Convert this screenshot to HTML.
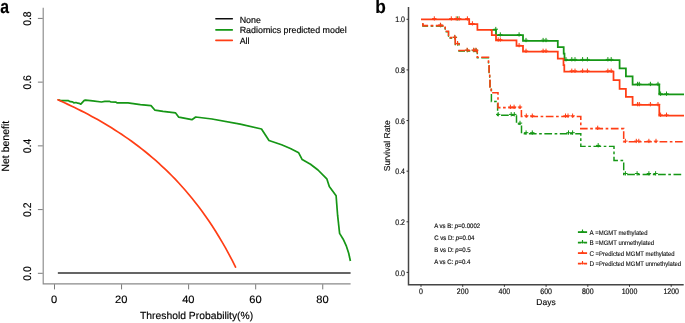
<!DOCTYPE html>
<html><head><meta charset="utf-8"><title>Decision curve and survival</title>
<style>html,body{margin:0;padding:0;background:#fff}body{width:685px;height:323px;overflow:hidden}svg{display:block}text{font-family:"Liberation Sans",Arial,sans-serif;fill:#000;text-rendering:geometricPrecision;stroke:#000;stroke-width:0.16px;stroke-linejoin:round}.tb text,text.tb{stroke-width:0.15px;stroke:#222}text.tl{stroke-width:0.08px;stroke:#222}</style></head><body>
<svg width="685" height="323" viewBox="0 0 685 323">
<rect width="685" height="323" fill="#fff"/>
<defs><filter id="soft" x="0" y="0" width="685" height="323" filterUnits="userSpaceOnUse"><feGaussianBlur stdDeviation="0.4"/></filter></defs>
<g filter="url(#soft)">
<path d="M43.2 7.8V283.8H350.6" stroke="#8a8a8a" stroke-width="1.15" fill="none"/>
<g stroke="#6a6a6a" stroke-width="0.9" fill="none">
<path d="M37.900000000000006 273.30H42.7"/>
<path d="M37.900000000000006 209.58H42.7"/>
<path d="M37.900000000000006 145.86H42.7"/>
<path d="M37.900000000000006 82.14H42.7"/>
<path d="M37.900000000000006 18.42H42.7"/>
<path d="M54.50 284.3V289.40000000000003"/>
<path d="M121.56 284.3V289.40000000000003"/>
<path d="M188.62 284.3V289.40000000000003"/>
<path d="M255.68 284.3V289.40000000000003"/>
<path d="M322.74 284.3V289.40000000000003"/>
</g>
<g font-size="10.7px" text-anchor="middle">
<text transform="translate(54.20 303.0) scale(1.04 1)">0</text>
<text transform="translate(121.26 303.0) scale(1.04 1)">20</text>
<text transform="translate(188.32 303.0) scale(1.04 1)">40</text>
<text transform="translate(255.38 303.0) scale(1.04 1)">60</text>
<text transform="translate(322.44 303.0) scale(1.04 1)">80</text>
<text transform="translate(30.8 273.50) scale(1.04 0.97) rotate(-90)">0.0</text>
<text transform="translate(30.8 209.78) scale(1.04 0.97) rotate(-90)">0.2</text>
<text transform="translate(30.8 146.06) scale(1.04 0.97) rotate(-90)">0.4</text>
<text transform="translate(30.8 82.34) scale(1.04 0.97) rotate(-90)">0.6</text>
<text transform="translate(30.8 18.62) scale(1.04 0.97) rotate(-90)">0.8</text>
</g>
<text x="196.6" y="319.3" font-size="10.35px" text-anchor="middle">Threshold Probability(%)</text>
<text transform="translate(9.1 146.2) rotate(-90)" font-size="10.5px" text-anchor="middle">Net benefit</text>
<path d="M57.85 273.1H350.6" stroke="#333" stroke-width="1.5" fill="none"/>
<path d="M58.3 99.8 L60.7 100.6 L68.1 100.6 L70.3 101.7 L72.5 101.9 L73.8 102.8 L76 102.5 L77.8 103.2 L79.1 103.3 L80.8 104.2 L84.3 100.4 L85.5 100.2 L92.7 100.9 L101.4 102 L104.9 101.3 L109.3 101.3 L111 102 L116 102.1 L117 102.9 L127.9 102.9 L140.4 104.6 L151 105.6 L155 110.2 L163 111.4 L175.6 112.9 L178.8 117.2 L191.9 119.7 L195.7 117 L212 119 L240.2 124.2 L261.5 129 L269 140.5 L281.6 144.8 L290.4 148.5 L298.7 152.8 L302.2 159.6 L310.5 164.3 L318 170 L326.8 178.8 L329.3 186.4 L336.1 195.7 L337.6 215.2 L339.6 233.4 L343.2 239.2 L346.4 246.2 L348.7 253.3 L350.4 261" stroke="#149614" stroke-width="1.7" fill="none" stroke-linejoin="round"/>
<path d="M57.85 99.84 L61.21 101.32 L64.56 102.83 L67.91 104.38 L71.27 105.95 L74.62 107.56 L77.97 109.20 L81.32 110.88 L84.68 112.60 L88.03 114.35 L91.38 116.15 L94.74 117.98 L98.09 119.86 L101.44 121.78 L104.80 123.75 L108.15 125.76 L111.50 127.82 L114.85 129.93 L118.21 132.09 L121.56 134.31 L124.91 136.58 L128.27 138.92 L131.62 141.31 L134.97 143.76 L138.32 146.28 L141.68 148.87 L145.03 151.53 L148.38 154.27 L151.74 157.08 L155.09 159.97 L158.44 162.94 L161.80 166.01 L165.15 169.16 L168.50 172.41 L171.86 175.76 L175.21 179.21 L178.56 182.78 L181.91 186.46 L185.27 190.26 L188.62 194.18 L191.97 198.24 L195.33 202.44 L198.68 206.79 L202.03 211.29 L205.39 215.95 L208.74 220.79 L212.09 225.81 L215.44 231.02 L218.80 236.44 L222.15 242.08 L225.50 247.94 L228.86 254.05 L232.21 260.42 L235.56 267.07" stroke="#FF3D14" stroke-width="1.7" fill="none" stroke-linejoin="round" stroke-linecap="round"/>
<path d="M215.9 18.7H232.3" stroke="#111" stroke-width="1.6" stroke-linecap="round"/>
<text x="239.7" y="22.9" font-size="8.9px">None</text>
<path d="M215.9 29.9H232.3" stroke="#149614" stroke-width="1.6" stroke-linecap="round"/>
<text x="239.7" y="33.1" font-size="8.9px">Radiomics predicted model</text>
<path d="M215.9 40.4H232.3" stroke="#FF3D14" stroke-width="1.6" stroke-linecap="round"/>
<text x="239.7" y="43.8" font-size="8.9px">All</text>
<text transform="translate(0.3 13.3) scale(0.84 1)" font-size="18.8px" font-weight="bold">a</text>
<path d="M408.5 7V284.8H683.7" stroke="#444" stroke-width="1.5" fill="none"/>
<g stroke="#333" stroke-width="1" fill="none">
<path d="M406.5 272.40H408.5"/>
<path d="M406.5 221.78H408.5"/>
<path d="M406.5 171.16H408.5"/>
<path d="M406.5 120.54H408.5"/>
<path d="M406.5 69.92H408.5"/>
<path d="M406.5 19.30H408.5"/>
<path d="M421.00 284.8V286.8"/>
<path d="M462.70 284.8V286.8"/>
<path d="M504.40 284.8V286.8"/>
<path d="M546.10 284.8V286.8"/>
<path d="M587.80 284.8V286.8"/>
<path d="M629.50 284.8V286.8"/>
<path d="M671.20 284.8V286.8"/>
</g>
<g class="tb" font-size="7px" fill="#222">
<text transform="translate(421.00 293.5) scale(1 1.14)" text-anchor="middle">0</text>
<text transform="translate(462.70 293.5) scale(1 1.14)" text-anchor="middle">200</text>
<text transform="translate(504.40 293.5) scale(1 1.14)" text-anchor="middle">400</text>
<text transform="translate(546.10 293.5) scale(1 1.14)" text-anchor="middle">600</text>
<text transform="translate(587.80 293.5) scale(1 1.14)" text-anchor="middle">800</text>
<text transform="translate(629.50 293.5) scale(1 1.14)" text-anchor="middle">1000</text>
<text transform="translate(671.20 293.5) scale(1 1.14)" text-anchor="middle">1200</text>
<text transform="translate(405.0 275.50) scale(1 1.14)" text-anchor="end">0.0</text>
<text transform="translate(405.0 224.88) scale(1 1.14)" text-anchor="end">0.2</text>
<text transform="translate(405.0 174.26) scale(1 1.14)" text-anchor="end">0.4</text>
<text transform="translate(405.0 123.64) scale(1 1.14)" text-anchor="end">0.6</text>
<text transform="translate(405.0 73.02) scale(1 1.14)" text-anchor="end">0.8</text>
<text transform="translate(405.0 22.40) scale(1 1.14)" text-anchor="end">1.0</text>
</g>
<text class="tb" x="546" y="305.4" font-size="8.5px" text-anchor="middle">Days</text>
<text class="tb" transform="translate(389.6 145.8) rotate(-90)" font-size="8.6px" text-anchor="middle">Survival Rate</text>
<text transform="translate(375.3 13.4) scale(0.91 1)" font-size="19px" font-weight="bold">b</text>
<path d="M422.9 23.70H422.9V26.20H445.2V31.90H448.5V38.20H455.3V44.60H459.1V45.40" stroke="#149614" stroke-width="1.3" fill="none" stroke-dasharray="7.7 2.55 2.65 2.55"/>
<path d="M458.3 51.00H477.3V57.90H488.5V63.60H489.1V73.60H489.7V78.60H490V87.60" stroke="#149614" stroke-width="1.3" fill="none" stroke-dasharray="7.7 2.55 2.65 2.55" stroke-dashoffset="1"/>
<path d="M490 87.35H491.4V101.45H497.6V115.15H516.5V124.05H521.5V133.65H580.8V146.35H614V160.45H623.7V174.45H682.4" stroke="#149614" stroke-width="1.45" fill="none" stroke-dasharray="7.7 2.55 2.65 2.55" stroke-dashoffset="7.50"/>
<path d="M490 29.80H496V35.20H523V40.80H557.8V47.10H563.7V53.50H564.5V60.00H619.6V68.40H625.9V76.30H632.6V84.70H659.3V94.40H684" stroke="#149614" stroke-width="1.75" fill="none"/>
<path d="M455.5 18.60H459.9M457.7 16.30V20.60M493.6 29.20H498.0M495.8 26.90V31.20M498.1 34.60H502.5M500.3 32.30V36.60M516.9 34.60H521.3M519.1 32.30V36.60M523.8 40.20H528.2M526.0 37.90V42.20M540.9 40.20H545.3M543.1 37.90V42.20M543.8 40.20H548.2M546.0 37.90V42.20M563.8 59.40H568.2M566.0 57.10V61.40M569.6 59.40H574.0M571.8 57.10V61.40M572.8 59.40H577.2M575.0 57.10V61.40M580.4 59.40H584.8M582.6 57.10V61.40M585.2 59.40H589.6M587.4 57.10V61.40M605.7 59.40H610.1M607.9 57.10V61.40M609.0 59.40H613.4M611.2 57.10V61.40M635.4 84.10H639.8M637.6 81.80V86.10M637.1 84.10H641.5M639.3 81.80V86.10M648.2 84.10H652.6M650.4 81.80V86.10M655.8 84.10H660.2M658.0 81.80V86.10M658.4 93.80H662.8M660.6 91.50V95.80M664.3 93.80H668.7M666.5 91.50V95.80" stroke="#149614" stroke-width="1.0" fill="none"/>
<path d="M496.0 114.40H500.4M498.2 112.10V116.40M509.0 114.40H513.4M511.2 112.10V116.40M512.1 114.40H516.5M514.3 112.10V116.40M517.8 123.10H522.2M520 120.80V125.10M523.9 132.70H528.3M526.1 130.40V134.70M530.1 132.70H534.5M532.3 130.40V134.70M566.3 132.70H570.7M568.5 130.40V134.70M570.4 132.70H574.8M572.6 130.40V134.70M596.0 145.40H600.4M598.2 143.10V147.40M623.2 173.50H627.6M625.4 171.20V175.50M634.9 173.50H639.3M637.1 171.20V175.50M646.7 173.50H651.1M648.9 171.20V175.50M653.4 173.50H657.8M655.6 171.20V175.50M438.4 25.30H442.8M440.6 23.00V27.30M452.7 37.40H457.1M454.9 35.10V39.40M455.5 43.70H459.9M457.7 41.40V45.70M465.1 50.30H469.5M467.3 48.00V52.30M471.7 50.30H476.1M473.9 48.00V52.30M473.9 50.30H478.3M476.1 48.00V52.30" stroke="#149614" stroke-width="1.0" fill="none"/>
<path d="M422.9 23.10H422.9V25.60H445.2V31.30H448.5V37.60H455.3V44.00H459.1V44.80" stroke="#FF3D14" stroke-width="1.55" fill="none" stroke-dasharray="7.7 2.55 2.65 2.55"/>
<path d="M458.3 50.40H477.3V57.30H488.5V63.00H489.1V73.00H489.7V78.00H490V87.00H491.2V92.80H498V107.60H521.4V116.40H580.8V128.60H623.7V141.70H684" stroke="#FF3D14" stroke-width="1.55" fill="none" stroke-dasharray="7.7 2.55 2.65 2.55" stroke-dashoffset="1"/>
<path d="M421 19.45H469.2V24.20H477.4V29.80H491.8V35.10H496V40.30H516.5V45.90H523V51.60H557.8V58.70H563.5V65.20H564.3V71.50H613.5V80.20H619.6V88.80H625.9V96.80H632.6V104.90H659.3V115.50H684" stroke="#FF3D14" stroke-width="1.75" fill="none"/>
<path d="M432.1 18.60H436.5M434.3 16.30V20.60M449.1 18.60H453.5M451.3 16.30V20.60M454.0 18.60H458.4M456.2 16.30V20.60M457.0 18.60H461.4M459.2 16.30V20.60M465.2 18.60H469.6M467.4 16.30V20.60M470.2 23.50H474.6M472.4 21.20V25.50M496.0 39.70H500.4M498.2 37.40V41.70M498.1 39.70H502.5M500.3 37.40V41.70M516.9 45.30H521.3M519.1 43.00V47.30M523.8 51.00H528.2M526.0 48.70V53.00M540.9 51.00H545.3M543.1 48.70V53.00M543.8 51.00H548.2M546.0 48.70V53.00M569.6 70.90H574.0M571.8 68.60V72.90M572.8 70.90H577.2M575.0 68.60V72.90M580.4 70.90H584.8M582.6 68.60V72.90M585.2 70.90H589.6M587.4 68.60V72.90M605.7 70.90H610.1M607.9 68.60V72.90M609.0 70.90H613.4M611.2 68.60V72.90M635.4 104.30H639.8M637.6 102.00V106.30M637.1 104.30H641.5M639.3 102.00V106.30M648.2 104.30H652.6M650.4 102.00V106.30M655.8 104.30H660.2M658.0 102.00V106.30M658.4 114.90H662.8M660.6 112.60V116.90M664.3 114.90H668.7M666.5 112.60V116.90" stroke="#FF3D14" stroke-width="1.0" fill="none"/>
<path d="M438.2 25.00H442.6M440.4 22.70V27.00M452.5 37.10H456.9M454.7 34.80V39.10M455.3 43.40H459.7M457.5 41.10V45.40M464.9 50.00H469.3M467.1 47.70V52.00M471.5 50.00H475.9M473.7 47.70V52.00M473.7 50.00H478.1M475.9 47.70V52.00M508.2 107.00H512.6M510.4 104.70V109.00M511.9 107.00H516.3M514.1 104.70V109.00M517.8 107.00H522.2M520.0 104.70V109.00M524.1 115.80H528.5M526.3 113.50V117.80M530.1 115.80H534.5M532.3 113.50V117.80M563.3 115.80H567.7M565.5 113.50V117.80M565.8 115.80H570.2M568.0 113.50V117.80M570.4 115.80H574.8M572.6 113.50V117.80M595.5 128.00H599.9M597.7 125.70V130.00M623.2 141.10H627.6M625.4 138.80V143.10M634.1 141.10H638.5M636.3 138.80V143.10M636.6 141.10H641.0M638.8 138.80V143.10M646.7 141.10H651.1M648.9 138.80V143.10M653.8 141.10H658.2M656.0 138.80V143.10" stroke="#FF3D14" stroke-width="1.0" fill="none"/>
<text transform="translate(434.2 227.90) scale(1 1.08)" class="tb" font-size="6.05px" fill="#111">A vs B: <tspan font-style="italic">p</tspan>=0.0002</text>
<text transform="translate(434.2 240.00) scale(1 1.08)" class="tb" font-size="6.05px" fill="#111">C vs D: <tspan font-style="italic">p</tspan>=0.04</text>
<text transform="translate(434.2 252.10) scale(1 1.08)" class="tb" font-size="6.05px" fill="#111">B vs D: <tspan font-style="italic">p</tspan>=0.5</text>
<text transform="translate(434.2 264.20) scale(1 1.08)" class="tb" font-size="6.05px" fill="#111">A vs C: <tspan font-style="italic">p</tspan>=0.4</text>
<path d="M577.9 232.10H587.1" stroke="#149614" stroke-width="1.75"/>
<path d="M582.5 229.60V232.90M581.2 231.90H583.8" stroke="#149614" stroke-width="1.1"/>
<text transform="translate(589.4 234.50) scale(1 1.08)" class="tl" font-size="5.95px" fill="#222"><tspan font-size="6.3px">A</tspan> =MGMT methylated</text>
<path d="M577.9 242.60H587.1" stroke="#149614" stroke-width="1.75" stroke-dasharray="3.5 2.2 3.5 9"/>
<path d="M582.5 240.10V243.40M581.2 242.40H583.8" stroke="#149614" stroke-width="1.1"/>
<text transform="translate(589.4 245.00) scale(1 1.08)" class="tl" font-size="5.95px" fill="#222"><tspan font-size="6.3px">B</tspan> =MGMT unmethylated</text>
<path d="M577.9 253.10H587.1" stroke="#FF3D14" stroke-width="1.75"/>
<path d="M582.5 250.60V253.90M581.2 252.90H583.8" stroke="#FF3D14" stroke-width="1.1"/>
<text transform="translate(589.4 255.50) scale(1 1.08)" class="tl" font-size="5.95px" fill="#222"><tspan font-size="6.3px">C</tspan> =Predicted MGMT methylated</text>
<path d="M577.9 263.60H587.1" stroke="#FF3D14" stroke-width="1.75" stroke-dasharray="3.5 2.2 3.5 9"/>
<path d="M582.5 261.10V264.40M581.2 263.40H583.8" stroke="#FF3D14" stroke-width="1.1"/>
<text transform="translate(589.4 266.00) scale(1 1.08)" class="tl" font-size="5.95px" fill="#222"><tspan font-size="6.3px">D</tspan> =Predicted MGMT unmethylated</text>
</g>
</svg></body></html>
